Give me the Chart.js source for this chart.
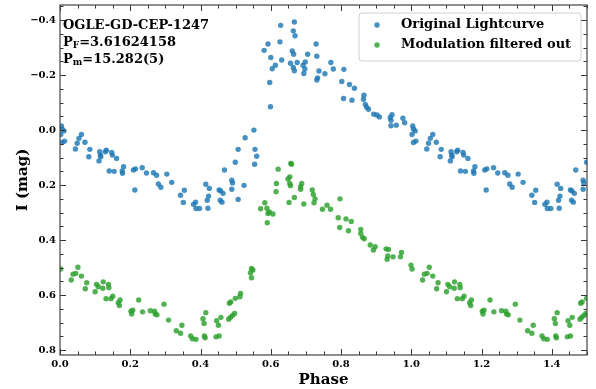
<!DOCTYPE html>
<html><head><meta charset="utf-8">
<script src="https://cdn.jsdelivr.net/npm/chart.js@4.4.0/dist/chart.umd.min.js"></script>
<style>html,body{margin:0;padding:0;background:#fff;}#wrap{width:596px;height:389px;}</style>
</head><body><div id="wrap"><canvas id="c" width="596" height="389"></canvas></div>
<script>
// ---- data (phase 0..1; the plot repeats phase+1 up to 1.5) ----
const phaseBlue = [0.004,0.006,0.002,0.011,0.006,0.013,0.044,0.049,0.054,0.061,0.071,0.082,0.085,0.111,0.113,0.115,0.116,0.129,0.132,0.147,0.149,0.161,0.140,0.154,0.177,0.178,0.181,0.209,0.215,0.213,0.234,0.246,0.266,0.275,0.280,0.287,0.304,0.318,0.343,0.354,0.351,0.380,0.386,0.387,0.397,0.415,0.425,0.423,0.419,0.421,0.453,0.457,0.464,0.456,0.461,0.489,0.491,0.489,0.468,0.499,0.507,0.507,0.524,0.527,0.552,0.555,0.560,0.554,0.599,0.597,0.581,0.592,0.600,0.604,0.613,0.626,0.628,0.631,0.656,0.661,0.664,0.667,0.669,0.665,0.664,0.667,0.675,0.692,0.694,0.698,0.697,0.705,0.729,0.731,0.737,0.731,0.733,0.754,0.771,0.778,0.808,0.802,0.824,0.838,0.807,0.831,0.865,0.864,0.869,0.873,0.878,0.893,0.902,0.909,0.940,0.945,0.942,0.942,0.957,0.976,0.981];
const magBlue = [-0.015,-0.004,0.016,0.003,0.045,0.040,0.069,0.048,0.030,0.016,0.044,0.097,0.070,0.112,0.079,0.091,0.097,0.079,0.073,0.081,0.091,0.103,0.149,0.150,0.149,0.157,0.133,0.145,0.141,0.218,0.137,0.156,0.155,0.164,0.196,0.208,0.160,0.190,0.237,0.219,0.263,0.270,0.262,0.285,0.285,0.197,0.212,0.240,0.255,0.284,0.218,0.221,0.230,0.255,0.262,0.182,0.192,0.215,0.145,0.117,0.070,0.252,0.201,0.028,0.000,0.070,0.095,0.124,-0.085,-0.173,-0.290,-0.313,-0.264,-0.223,-0.236,-0.321,-0.381,-0.255,-0.243,-0.288,-0.361,-0.393,-0.343,-0.276,-0.228,-0.216,-0.246,-0.236,-0.206,-0.248,-0.222,-0.276,-0.313,-0.269,-0.215,-0.182,-0.190,-0.205,-0.246,-0.222,-0.221,-0.177,-0.166,-0.152,-0.115,-0.109,-0.127,-0.112,-0.093,-0.083,-0.076,-0.058,-0.055,-0.048,-0.046,-0.056,-0.036,-0.016,-0.018,-0.043,-0.027];
const phaseGreen = [0.002,0.032,0.037,0.045,0.051,0.061,0.072,0.076,0.100,0.104,0.109,0.123,0.122,0.138,0.139,0.131,0.145,0.150,0.166,0.169,0.171,0.202,0.204,0.207,0.224,0.235,0.257,0.269,0.271,0.276,0.296,0.309,0.331,0.343,0.347,0.372,0.377,0.387,0.407,0.410,0.415,0.411,0.413,0.446,0.451,0.458,0.444,0.453,0.480,0.485,0.482,0.486,0.491,0.497,0.499,0.514,0.512,0.545,0.549,0.542,0.545,0.590,0.592,0.589,0.583,0.571,0.596,0.606,0.615,0.616,0.621,0.652,0.649,0.654,0.654,0.656,0.657,0.659,0.667,0.685,0.688,0.685,0.694,0.718,0.721,0.726,0.723,0.747,0.760,0.770,0.797,0.792,0.796,0.814,0.821,0.829,0.856,0.856,0.861,0.866,0.883,0.892,0.897,0.928,0.935,0.933,0.931,0.948,0.969,0.972,0.999];
const magGreen = [0.505,0.545,0.524,0.521,0.499,0.531,0.577,0.555,0.588,0.561,0.570,0.552,0.575,0.561,0.573,0.613,0.613,0.604,0.628,0.638,0.618,0.659,0.669,0.655,0.618,0.661,0.657,0.659,0.669,0.672,0.633,0.691,0.730,0.739,0.710,0.749,0.759,0.761,0.686,0.703,0.664,0.749,0.755,0.693,0.710,0.681,0.752,0.749,0.688,0.681,0.630,0.625,0.674,0.667,0.612,0.594,0.606,0.503,0.509,0.519,0.537,0.337,0.303,0.284,0.264,0.286,0.298,0.305,0.224,0.194,0.142,0.263,0.178,0.170,0.194,0.202,0.121,0.124,0.245,0.206,0.194,0.215,0.269,0.218,0.234,0.250,0.264,0.288,0.273,0.288,0.250,0.319,0.354,0.323,0.366,0.332,0.361,0.376,0.390,0.395,0.418,0.436,0.424,0.432,0.434,0.458,0.470,0.461,0.461,0.445,0.491];
const xTickValues = [0, 0.2, 0.4, 0.6, 0.8, 1.0, 1.2, 1.4];
const yTickValues = [-0.4, -0.2, 0, 0.2, 0.4, 0.6, 0.8];
const seriesNames = ['Original Lightcurve', 'Modulation filtered out'];
const starName = 'OGLE-GD-CEP-1247';
const periodF = '3.61624158';
const periodM = '15.282(5)';

const FONT = "'DejaVu Serif', 'Liberation Serif', serif";
const BLUE = 'rgba(31,119,180,0.82)';
const GREEN = 'rgba(44,160,44,0.82)';

function fold(ph, mg) {
  const pts = [];
  for (let i = 0; i < ph.length; i++) pts.push({x: ph[i], y: mg[i]});
  for (let i = 0; i < ph.length; i++) if (ph[i] + 1 <= 1.52) pts.push({x: ph[i] + 1, y: mg[i]});
  return pts;
}
function fmt(v) {
  const s = Math.abs(v).toFixed(1);
  return v < -1e-9 ? '\u2212' + s : s;
}

const decor = {
  id: 'decor',
  afterDatasetsDraw(chart) {
    const {ctx, chartArea: a, scales: {x, y}} = chart;
    ctx.save();
    ctx.strokeStyle = '#333';
    ctx.lineWidth = 1;
    const line = (x1, y1, x2, y2) => { ctx.beginPath(); ctx.moveTo(x1, y1); ctx.lineTo(x2, y2); ctx.stroke(); };
    for (let i = 0; i <= 30; i++) {
      const v = i * 0.05;
      const px = Math.round(x.getPixelForValue(v)) + 0.5;
      const L = (i % 4 === 0) ? 6 : 3.5;
      line(px, a.bottom, px, a.bottom - L);
      line(px, a.top, px, a.top + L);
    }
    for (let i = -9; i <= 16; i++) {
      const v = i * 0.05;
      if (v < y.min - 1e-9 || v > y.max + 1e-9) continue;
      const py = Math.round(y.getPixelForValue(v)) + 0.5;
      const L = (Math.abs(i) % 4 === 0) ? 6 : 3.5;
      line(a.left, py, a.left + L, py);
      line(a.right, py, a.right - L, py);
    }
    ctx.strokeStyle = '#444';
    ctx.lineWidth = 1.2;
    ctx.strokeRect(a.left, a.top, a.right - a.left, a.bottom - a.top);
    ctx.restore();
  },
  afterDraw(chart) {
    const {ctx, chartArea: a} = chart;
    ctx.save();
    ctx.fillStyle = '#000';
    ctx.textBaseline = 'middle';
    ctx.textAlign = 'left';
    const big = 'bold 13px ' + FONT, small = 'bold 9px ' + FONT;
    let tx = a.left + 3;
    ctx.font = big; ctx.fillText(starName, tx, 26);
    const sub = (yy, s1, s2, s3) => {
      let xx = tx;
      ctx.font = big; ctx.fillText(s1, xx, yy); xx += ctx.measureText(s1).width;
      ctx.font = small; ctx.fillText(s2, xx, yy + 3); xx += ctx.measureText(s2).width;
      ctx.font = big; ctx.fillText(s3, xx, yy);
    };
    sub(43, 'P', 'F', '=' + periodF);
    sub(60, 'P', 'm', '=' + periodM);
    // legend
    const bx = 359, by = 13, bw = 222, bh = 48, r = 3;
    ctx.beginPath();
    ctx.moveTo(bx + r, by); ctx.lineTo(bx + bw - r, by); ctx.arcTo(bx + bw, by, bx + bw, by + r, r);
    ctx.lineTo(bx + bw, by + bh - r); ctx.arcTo(bx + bw, by + bh, bx + bw - r, by + bh, r);
    ctx.lineTo(bx + r, by + bh); ctx.arcTo(bx, by + bh, bx, by + bh - r, r);
    ctx.lineTo(bx, by + r); ctx.arcTo(bx, by, bx + r, by, r);
    ctx.closePath();
    ctx.fillStyle = 'rgba(255,255,255,0.8)'; ctx.fill();
    ctx.strokeStyle = '#d0d0d0'; ctx.lineWidth = 1; ctx.stroke();
    const cols = [BLUE, GREEN];
    seriesNames.forEach((n, i) => {
      const yy = 25 + i * 20;
      ctx.fillStyle = cols[i];
      ctx.beginPath(); ctx.arc(377, yy, 2.7, 0, Math.PI * 2); ctx.fill();
      ctx.fillStyle = '#000'; ctx.font = big;
      ctx.fillText(n, 401, yy);
    });
    ctx.restore();
  }
};

new Chart(document.getElementById('c'), {
  type: 'scatter',
  data: {
    datasets: [
      {label: seriesNames[0], data: fold(phaseBlue, magBlue), backgroundColor: BLUE, borderWidth: 0, pointRadius: 2.7, clip: 0},
      {label: seriesNames[1], data: fold(phaseGreen, magGreen), backgroundColor: GREEN, borderWidth: 0, pointRadius: 2.7, clip: 0}
    ]
  },
  options: {
    responsive: false, animation: false, devicePixelRatio: 1,
    layout: {padding: {left: 0, right: 9, top: 5, bottom: 0}},
    plugins: {legend: {display: false}, tooltip: {enabled: false}},
    scales: {
      x: {
        type: 'linear', min: 0, max: 1.5,
        afterBuildTicks: s => { s.ticks = xTickValues.map(v => ({value: v})); },
        afterFit: s => { s.height = 34; s.paddingLeft = 0; s.paddingRight = 0; },
        grid: {display: false, drawTicks: false}, border: {display: false},
        ticks: {padding: 3, color: '#000', font: {family: FONT, size: 10, weight: 'bold'}, callback: v => fmt(v), maxRotation: 0, autoSkip: false},
        title: {display: true, text: 'Phase', color: '#000', font: {family: FONT, size: 15, weight: 'bold'}, padding: {top: 0, bottom: 0}}
      },
      y: {
        type: 'linear', reverse: true, min: -0.455, max: 0.818,
        afterBuildTicks: s => { s.ticks = yTickValues.map(v => ({value: v})); },
        afterFit: s => { s.width = 60; s.paddingTop = 0; s.paddingBottom = 0; },
        grid: {display: false, drawTicks: false}, border: {display: false},
        ticks: {padding: 4, color: '#000', font: {family: FONT, size: 10, weight: 'bold'}, callback: v => fmt(v), autoSkip: false},
        title: {display: true, text: 'I (mag)', color: '#000', font: {family: FONT, size: 15, weight: 'bold'}, padding: {top: 14, bottom: 0}}
      }
    }
  },
  plugins: [decor]
});
</script></body></html>
